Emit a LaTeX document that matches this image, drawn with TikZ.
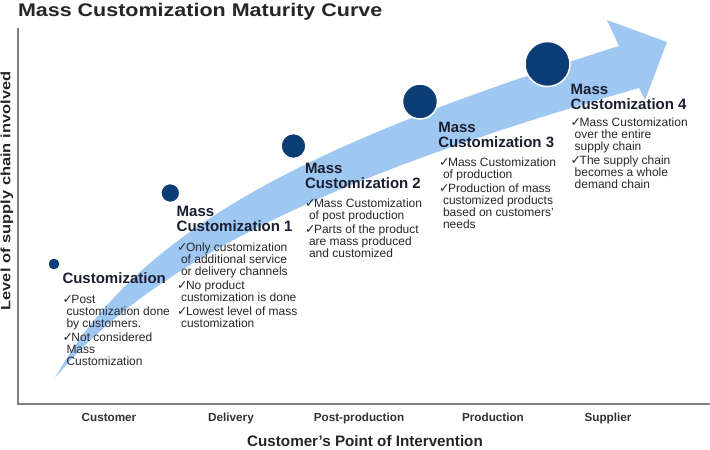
\documentclass[tikz,border=0pt]{standalone}
\usepackage{fontspec}
\setmainfont{Liberation Sans}
\newfontfamily\dejavu{DejaVu Sans}
\definecolor{titlegray}{RGB}{38,38,38}
\definecolor{labgray}{RGB}{50,50,50}
\definecolor{headcol}{RGB}{26,30,48}
\definecolor{bodycol}{RGB}{40,40,44}
\definecolor{navy}{RGB}{12,60,116}
\definecolor{bandblue}{RGB}{158,200,242}
\definecolor{axisgray}{RGB}{128,128,128}
\newcommand\chk{\makebox[9pt][l]{\dejavu\fontsize{12.5}{12}\selectfont ✓}}
\newcommand\ind{\hspace*{4pt}}
\newcommand\gap{\noalign{\vskip2pt}}
\newcommand\blk[2][12pt]{\vtop{\baselineskip=#1\relax\lineskiplimit=-20pt\lineskip=0pt\halign{##\hfil\cr#2\crcr}}}
\begin{document}
\begin{tikzpicture}[x=1pt,y=-1pt,
  every node/.style={inner sep=0pt, outer sep=0pt},
  ttl/.style={font=\fontsize{21.5}{24}\selectfont\bfseries, text=titlegray},
  ylab/.style={font=\fontsize{13.5}{15}\selectfont\bfseries, text=titlegray},
  xlab/.style={font=\fontsize{11.7}{13}\selectfont\bfseries, text=labgray, anchor=base},
  xtitle/.style={font=\fontsize{15.2}{17}\selectfont\bfseries, text=titlegray, anchor=base},
  head/.style={font=\fontsize{15}{15}\selectfont\bfseries, text=headcol, anchor=base west},
  body/.style={font=\fontsize{12}{12}\selectfont, text=bodycol, anchor=base west},
  dot/.style={circle, fill=navy, draw=white, line width=1.5pt, inner sep=0pt},
  axis/.style={draw=axisgray, line width=1.5pt},
  band/.style={fill=bandblue}
]
\useasboundingbox (0,0) rectangle (710,450);
\fill[white] (0,0) rectangle (710,450);

% axes
\coordinate (ytop) at (18,28);
\coordinate (orig) at (18,404);
\coordinate (xend) at (710,404);
\draw[axis] (ytop) -- (orig) -- (xend);

% curved arrow band
\fill[band] (55,378) .. controls (140,225) and (320,140) .. (619,46)
  -- (607,20) -- (667,42) -- (645,100) -- (639,88)
  .. controls (370,165) and (160,250) .. (55,378) -- cycle;

% circles
\node[dot, minimum size=12pt] (d0) at (54,264) {};
\node[dot, minimum size=19pt] (d1) at (170.3,193) {};
\node[dot, minimum size=25pt] (d2) at (293.5,146) {};
\node[dot, minimum size=35pt] (d3) at (420,101.5) {};
\node[dot, minimum size=45pt] (d4) at (547.5,64) {};

% title
\node[ttl, anchor=base west, yscale=.85, transform shape] (title) at (18,16) {Mass Customization Maturity Curve};

% axis labels
\node[ylab, rotate=90, xscale=1.22, transform shape] (ylabel) at (6.8,191) {Level of supply chain involved};
\node[xlab] (x1) at (109,421) {Customer};
\node[xlab] (x2) at (231,421) {Delivery};
\node[xlab] (x3) at (359,421) {Post-production};
\node[xlab] (x4) at (493,421) {Production};
\node[xlab] (x5) at (608,421) {Supplier};
\node[xtitle] (xt) at (365,446) {Customer’s Point of Intervention};

% stage 0
\node[head] (h0) at (62.5,283) {Customization};
\node[body] (b0) at (62.5,303) {\blk{\chk Post\cr \ind customization done\cr \ind by customers.\cr\gap \chk Not considered\cr \ind Mass\cr \ind Customization\cr}};

% stage 1
\node[head] (h1) at (176.7,216.7) {\blk[15pt]{Mass\cr Customization 1\cr}};
\node[body] (b1) at (177,251.5) {\blk{\chk Only customization\cr \ind of additional service\cr \ind or delivery channels\cr\gap \chk No product\cr \ind customization is done\cr\gap \chk Lowest level of mass\cr \ind customization\cr}};

% stage 2
\node[head] (h2) at (305,173.3) {\blk[15pt]{Mass\cr Customization 2\cr}};
\node[body] (b2) at (305,207.3) {\blk{\chk Mass Customization\cr \ind of post production\cr\gap \chk Parts of the product\cr \ind are mass produced\cr \ind and customized\cr}};

% stage 3
\node[head] (h3) at (438.3,132.7) {\blk[15pt]{Mass\cr Customization 3\cr}};
\node[body] (b3) at (439,166.7) {\blk{\chk Mass Customization\cr \ind of production\cr\gap \chk Production of mass\cr \ind customized products\cr \ind based on customers’\cr \ind needs\cr}};

% stage 4
\node[head] (h4) at (570.7,94) {\blk[15pt]{Mass\cr Customization 4\cr}};
\node[body] (b4) at (570.7,126.7) {\blk{\chk Mass Customization\cr \ind over the entire\cr \ind supply chain\cr\gap \chk The supply chain\cr \ind becomes a whole\cr \ind demand chain\cr}};
\end{tikzpicture}
\end{document}
